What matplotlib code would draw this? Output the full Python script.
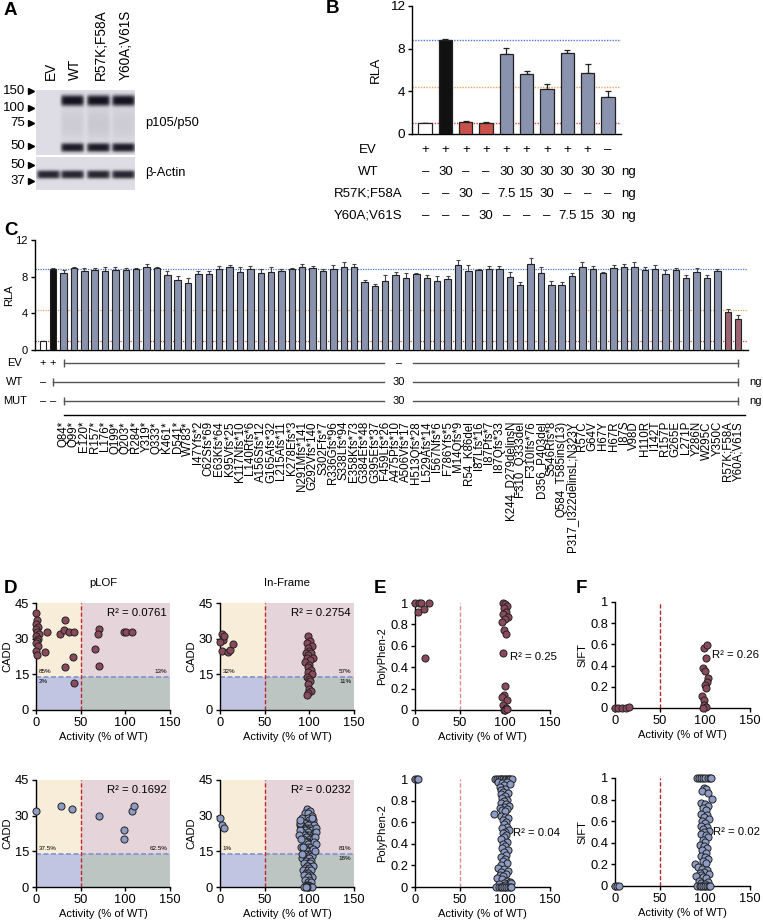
import matplotlib

matplotlib.use("Agg")
import matplotlib.pyplot as plt
import numpy as np
from matplotlib.colors import LinearSegmentedColormap
from matplotlib.transforms import blended_transform_factory as blend

W, H = 763, 924
plt.rcParams["font.family"] = ["Liberation Sans", "DejaVu Sans"]
plt.rcParams["font.size"] = 9
plt.rcParams["axes.linewidth"] = 1.0

# ---------------- data ----------------
# A: blot
blot_lanes = ["EV", "WT", "R57K;F58A", "Y60A;V61S"]
p105_signal = [0.0, 1.0, 1.0, 1.0]
p50_signal = [0.0, 0.95, 0.95, 0.95]
smear_signal = [0.0, 0.08, 0.1, 0.08]
actin_signal = [0.9, 0.9, 0.9, 0.9]
marker_top = ["150", "100", "75", "50"]
marker_bot = ["50", "37"]

# B
b_group = ["EV", "WT", "MUT", "MUT", "MIX", "MIX", "MIX", "MIX", "MIX", "MIX"]
b_values = [1.0, 8.82, 1.12, 1.07, 7.5, 5.6, 4.2, 7.57, 5.76, 3.43]
b_errors = [0.0, 0.08, 0.12, 0.1, 0.6, 0.3, 0.47, 0.32, 0.8, 0.56]
b_row_names = ["EV", "WT", "R57K;F58A", "Y60A;V61S"]
b_ev = ["+", "+", "+", "+", "+", "+", "+", "+", "+", "–"]
b_wt = ["–", "30", "–", "–", "30", "30", "30", "30", "30", "30"]
b_r57k = ["–", "–", "30", "–", "7.5", "15", "30", "–", "–", "–"]
b_y60a = ["–", "–", "–", "30", "–", "–", "–", "7.5", "15", "30"]
b_ref = [8.8, 4.4, 1.0]

# C
c_labels = ["Q84*", "Q99*", "E120*", "R157*", "L176*", "Q199*", "Q203*", "R284*",
            "Y319*", "Q333*", "K461*", "D541*", "W783*", "I47Yfs*2", "C62Sfs*69",
            "E63Kfs*64", "K95Vfs*25", "K117Nfs*10", "L140Rfs*6", "A156Sfs*12",
            "G165Afs*32", "L215Afs*11", "K278Efs*3", "N291Mfs*141", "G292Vfs*140",
            "S302Ffs*7", "R336Gfs*96", "S338Lfs*94", "E358Kfs*73", "G384Efs*48",
            "G395Efs*37", "F459Lfs*26", "A475Pfs*10", "A506Vfs*17", "H513Qfs*28",
            "L529Afs*14", "I567Nfs*6", "F786Yfs*5", "M14Qfs*9", "R54_K86del",
            "I87Lfs*16", "I87Pfs*7", "I87Qfs*33", "K244_D279delinsN", "F310_Q333del",
            "F310Ifs*76", "D356_P403del", "S546Rfs*8", "Q584_T585ins(13)",
            "P317_I322delinsL;N323Y", "R57C", "G64V", "H67Y", "H67R", "I87S", "V98D",
            "H110R", "I142T", "R157P", "G265E", "L271P", "Y286N", "W295C", "Y350C",
            "R57K;F58A", "Y60A;V61S"]
c_values = [1.0, 8.85,
            8.4, 8.9, 8.6, 8.7, 8.6, 8.7, 8.7, 8.8, 9.1, 8.9, 8.2, 7.6, 7.3, 8.3, 8.3,
            8.81, 9.1, 8.56, 8.81, 8.38, 8.56, 8.63, 8.81, 9.1, 8.99, 8.66, 8.81,
            9.1, 9.1, 7.47, 7.0, 7.58, 8.2, 7.9, 8.3, 7.83, 7.55, 7.73, 9.28, 8.63,
            8.74, 8.81, 8.88, 8.0, 7.1, 9.35, 8.45, 7.1, 7.1, 8.12, 9.1, 8.81, 8.38,
            8.92, 9.03, 9.1, 8.74, 8.84, 8.27, 8.74, 7.9, 8.56, 7.83, 8.66, 4.2, 3.4]
c_errors = [0.0, 0.1,
            0.3, 0.2, 0.4, 0.3, 0.5, 0.4, 0.2, 0.2, 0.3, 0.2, 0.4, 0.5, 0.6, 0.3, 0.3,
            0.3, 0.15, 0.5, 0.3, 0.5, 0.5, 0.2, 0.15, 0.3, 0.2, 0.15, 0.5, 0.5, 0.3,
            0.2, 0.15, 0.6, 0.3, 0.5, 0.15, 0.3, 0.5, 0.3, 0.5, 0.6, 0.1, 0.3, 0.3,
            0.5, 0.3, 0.7, 0.6, 0.4, 0.3, 0.3, 0.5, 0.3, 0.1, 0.4, 0.3, 0.5, 0.3,
            0.4, 0.5, 0.2, 0.3, 0.4, 0.3, 0.15, 0.3, 0.4]
c_ev = ["+", "+"]
c_wt = ["–"]
c_mut = ["–", "–"]

# D: activity vs CADD
plof_act = [0, 1, 0, 2, 0, 1, 3, 0, 2, 1, 0, 2, 0, 1,
            12, 10, 27, 32, 31, 37, 42, 41, 33, 42, 66, 70, 69, 71, 98, 101, 108]
plof_cadd = [41, 38, 36, 35, 34, 33, 32, 31, 30, 29, 28, 27, 25, 23,
             33, 24.5, 32, 38, 33.6, 33, 33, 22.4, 18, 11.5, 25.6, 34, 32, 18.5, 33, 33, 33]
inf_act = [2, 3, 0, 4, 2, 9, 11, 15,
           99, 101, 97, 103, 98, 100, 96, 102, 99, 104, 97, 101, 95, 100, 98, 102,
           99, 103, 97, 100, 101, 98, 100, 102, 99, 97]
inf_cadd = [32, 29.4, 28.7, 31, 25, 24.5, 25.2, 27.6,
            31, 29, 28, 27, 26, 25, 24, 24, 23, 22, 22, 21, 20, 19, 18, 17,
            16, 15, 14, 13, 12, 11, 9, 8, 7, 6.5]
plof2_act = [0, 28, 40, 70, 98, 98, 107, 110]
plof2_cadd = [32, 34, 33, 30, 24, 20, 32, 34]
inf2_act = [0, 2, 4,
            97, 101, 95, 99, 103, 92, 98, 104, 100, 96, 94, 102, 99, 105, 91, 97, 101, 93, 100, 98,
            103, 95, 99, 106, 92, 97, 100, 94, 102, 98, 96, 101, 104, 93, 99, 97, 95, 100, 103, 98,
            91, 99, 102, 96, 94, 100, 97, 105, 98, 101, 95, 99, 103, 92, 97, 100, 96, 102, 98, 94,
            101, 99, 104, 97, 95, 100, 93, 98, 102, 96, 99, 101, 97, 94, 103, 98, 100, 95, 99, 102,
            96, 98, 101, 97, 100, 94, 99, 103, 97, 96,
            89, 107, 90, 108, 88, 106, 91, 105, 89, 107, 93, 104, 90, 106, 92, 103]
inf2_cadd = [29, 26, 25,
             33, 32, 31, 31, 30, 29, 29, 28, 28, 27, 27, 27, 26, 26, 26, 25, 25, 25, 24, 24,
             24, 24, 23, 23, 23, 22, 22, 22, 21, 21, 21, 20, 20, 20, 19, 19, 19, 18, 18, 18,
             17, 17, 17, 16, 16, 15, 15, 15, 14, 14, 14, 13, 13, 12, 12, 12, 11, 11, 10, 10,
             10, 9, 9, 9, 8, 8, 7, 7, 7, 6, 6, 5, 5, 5, 4, 4, 3, 3, 2, 2,
             1, 1, 0.5, 0.5, 0.3, 0, 0, 0, 0, 0,
             26, 25, 24, 23, 22, 21, 20, 19, 27, 18, 17, 16, 28, 15, 14, 29]
d_r2 = ["0.0761", "0.2754", "0.1692", "0.0232"]
d_pct = [("85%", "13%", "2%", ""), ("32%", "57%", "", "11%"),
         ("37.5%", "62.5%", "", ""), ("1%", "81%", "", "18%")]
cadd_cut = 14

# E: activity vs PolyPhen-2
e1_act = [0, 4, 7, 3, 10, 16, 11,
          98, 100, 102, 99, 101, 98, 103, 100, 97, 99, 101, 98, 100, 99, 97, 102, 98, 101, 99, 100, 102]
e1_pp = [1.0, 1.0, 1.0, 0.92, 0.94, 1.0, 0.49,
         1.0, 0.99, 0.97, 0.95, 0.92, 0.9, 0.87, 0.85, 0.82, 0.75, 0.71, 0.53,
         0.22, 0.14, 0.12, 0.09, 0.05, 0.02, 0.0, 0.0, 0.01]
e2_act = [0, 2, 3,
          89, 91, 93, 95, 96, 98, 100, 101, 103, 104, 106, 108,
          92, 97, 102, 99, 94, 105, 100, 96, 98, 103, 95, 100, 97, 102, 99,
          96, 101, 104, 99, 94, 102, 97, 100, 88, 95, 100, 103, 98, 101,
          99, 102, 97, 104, 100, 98, 101, 99, 96, 102, 98, 100, 97, 103, 99, 101,
          96, 100, 98, 102, 95, 92, 99, 103, 96, 101, 94, 98,
          91, 97, 102, 105, 99, 93, 100, 107, 90, 93, 95, 97, 99, 101, 103, 105, 107]
e2_pp = [1.0, 1.0, 1.0,
         1, 1, 1, 1, 1, 1, 1, 1, 1, 1, 1, 1,
         0.97, 0.96, 0.97, 0.94, 0.93, 0.95, 0.91, 0.9, 0.88, 0.87, 0.86, 0.84, 0.82, 0.81, 0.8,
         0.78, 0.77, 0.75, 0.74, 0.73, 0.72, 0.71, 0.7, 0.68, 0.66, 0.65, 0.64, 0.62, 0.6,
         0.58, 0.56, 0.55, 0.53, 0.51, 0.5, 0.48, 0.46, 0.44, 0.42, 0.4, 0.38, 0.36, 0.34, 0.32, 0.3,
         0.28, 0.26, 0.24, 0.22, 0.2, 0.18, 0.17, 0.15, 0.14, 0.12, 0.11, 0.1,
         0.08, 0.07, 0.06, 0.05, 0.04, 0.03, 0.02, 0.04, 0, 0, 0, 0, 0, 0, 0, 0, 0]
e_r2 = ["0.25", "0.04"]

# F: activity vs SIFT
f1_act = [0, 3, 8, 12, 15,
          99, 102, 101, 98, 100, 103, 102, 100, 101, 97, 99, 99, 101, 98]
f1_sift = [0, 0, 0, 0, 0.01,
           0.57, 0.59, 0.47, 0.38, 0.35, 0.28, 0.25, 0.22, 0.19, 0.11, 0.08, 0.03, 0.01, 0.0]
f2_act = [0, 2, 4,
          91, 93, 96, 98, 100, 103, 105, 107,
          99, 101, 97, 103, 108, 95, 100, 103, 98, 101, 96, 102, 99, 104, 97,
          100, 95, 102, 98, 104, 99, 96, 101, 103, 98, 100, 94, 99, 102, 97, 101,
          95, 100, 103, 98, 89, 101, 92, 97, 102, 99, 94, 104, 96,
          90, 98, 101, 93, 103, 96, 100, 91, 94, 96, 98, 100, 102, 104, 106]
f2_sift = [0, 0, 0,
           1, 1, 1, 1, 1, 1, 1, 1,
           0.91, 0.9, 0.88, 0.86, 0.81, 0.77, 0.76, 0.74, 0.72, 0.7, 0.67, 0.66, 0.64, 0.62, 0.6,
           0.58, 0.56, 0.55, 0.53, 0.51, 0.5, 0.48, 0.47, 0.45, 0.43, 0.41, 0.38, 0.37, 0.35, 0.33, 0.31,
           0.28, 0.27, 0.25, 0.23, 0.2, 0.21, 0.18, 0.16, 0.15, 0.13, 0.12, 0.11, 0.1,
           0.09, 0.08, 0.07, 0.05, 0.04, 0.03, 0.02, 0, 0, 0, 0, 0, 0, 0, 0]
f_r2 = ["0.26", "0.02"]

# ---------------- style ----------------
GREYBLUE = "#8a93ae"
RED = "#c8524a"
MAUVE = "#9c6470"
MAROON = "#8b4a5c"
BLUEPT = "#8d9cc4"
REF_COLORS = ["#4f76d6", "#f0a25a", "#e0453f"]
b_color = {"EV": "white", "WT": "#111111", "MUT": RED, "MIX": GREYBLUE}

fig = plt.figure(figsize=(W / 100, H / 100), dpi=100)


def add_ax(x0, y0, x1, y1):
    return fig.add_axes([x0 / W, 1 - y1 / H, (x1 - x0) / W, (y1 - y0) / H])


def fy(y):
    return 1 - y / H


def fx(x):
    return x / W


def letter(x, y, s):
    fig.text(fx(x), fy(y), s, fontsize=13.5, fontweight="bold", va="top", ha="left")


def clean(ax, size=9.3):
    ax.spines["top"].set_visible(False)
    ax.spines["right"].set_visible(False)
    ax.tick_params(direction="out", length=3, width=1, labelsize=size, pad=2)


# ---------------- A ----------------
letter(4, 2, "A")
blot_cmap = LinearSegmentedColormap.from_list("blot", ["#15131f", "#e8e6ee"])
lane_x = [12, 36, 62, 87]


def blot(ax, nrows, bands):
    yy, xx = np.mgrid[0:nrows, 0:99]
    img = np.full((nrows, 99), 0.95)
    for yc, hh, sig in bands:
        for xc, s in zip(lane_x, sig):
            img -= s * 0.95 * np.exp(-((xx - xc) / 11.5) ** 8) * np.exp(-np.abs((yy - yc) / hh) ** 3)
    ax.imshow(np.clip(img, 0, 1), cmap=blot_cmap, vmin=0, vmax=1, aspect="auto",
              extent=(0, 99, nrows, 0), interpolation="bilinear")
    ax.set_xticks([])
    ax.set_yticks([])
    for s in ax.spines.values():
        s.set_visible(False)


def markers(ax, rows, names):
    tr = blend(fig.transFigure, ax.transData)
    for r, m in zip(rows, names):
        ax.text(fx(25), r, m, transform=tr, ha="right", va="center", fontsize=9.5)
        ax.plot([fx(31)], [r], transform=tr, marker=">", ms=4.5, color="black", clip_on=False)


ax_a1 = add_ax(36, 90, 135, 155)
blot(ax_a1, 65, [(10, 5.5, p105_signal), (57, 4.5, p50_signal), (33, 16, smear_signal)])
markers(ax_a1, [0.5, 18, 33, 56], marker_top)
ax_a2 = add_ax(36, 157, 135, 190)
blot(ax_a2, 33, [(17, 4.2, actin_signal)])
markers(ax_a2, [8, 24], marker_bot)
for xc, name in zip(lane_x, blot_lanes):
    ax_a1.text(xc + 3, -10, name, rotation=90, ha="center", va="bottom", fontsize=9.8)
fig.text(fx(145), fy(123), "p105/p50", fontsize=9.3, va="center")
fig.text(fx(145), fy(173), "β-Actin", fontsize=9.3, va="center")

# ---------------- B ----------------
letter(326, 0, "B")
ax_b = add_ax(412, 6, 621, 134)
xb = np.arange(len(b_values))
ax_b.bar(xb, b_values, width=0.66, color=[b_color[g] for g in b_group],
         edgecolor="#222222", linewidth=0.9, zorder=3)
ax_b.errorbar(xb, b_values, yerr=[np.zeros(len(b_errors)), b_errors], fmt="none",
              ecolor="#222222", elinewidth=0.9, capsize=2.5, capthick=0.9, zorder=2)
for val, col in zip(b_ref, REF_COLORS):
    ax_b.axhline(val, color=col, lw=1.0, ls=(0, (1, 1)), zorder=1)
ax_b.set_xlim(-0.65, len(b_values) - 0.35)
ax_b.set_ylim(0, 12)
ax_b.set_yticks([0, 4, 8, 12])
ax_b.set_xticks([])
ax_b.set_ylabel("RLA", fontsize=9.7, labelpad=6)
clean(ax_b, 9.7)
tb = blend(ax_b.transData, fig.transFigure)
for y, name, row in zip([150, 172, 194, 216], b_row_names, [b_ev, b_wt, b_r57k, b_y60a]):
    fig.text(fx(368), fy(y), name, ha="center", va="center", fontsize=9.5)
    for x, s in zip(xb, row):
        ax_b.text(x, fy(y), s, transform=tb, ha="center", va="center", fontsize=9.5)
    if name != "EV":
        fig.text(fx(621), fy(y), "ng", ha="left", va="center", fontsize=9.5)

# ---------------- C ----------------
letter(4, 222, "C")
ax_c = add_ax(35, 240, 748, 350)
xc = np.arange(len(c_values))
c_cols = ["white", "#111111"] + [GREYBLUE] * (len(c_values) - 4) + [MAUVE, MAUVE]
ax_c.bar(xc, c_values, width=0.62, color=c_cols, edgecolor="#222222", linewidth=0.8, zorder=3)
ax_c.errorbar(xc, c_values, yerr=[np.zeros(len(c_errors)), c_errors], fmt="none",
              ecolor="#444444", elinewidth=0.8, capsize=1.5, capthick=0.8, zorder=2)
for val, col in zip(b_ref, REF_COLORS):
    ax_c.axhline(val, color=col, lw=0.9, ls=(0, (1, 1)), zorder=1)
ax_c.set_xlim(-0.75, len(c_values) - 0.05)
ax_c.set_ylim(0, 12)
ax_c.set_yticks([0, 4, 8, 12])
ax_c.set_xticks([])
ax_c.set_ylabel("RLA", fontsize=8, labelpad=1)
clean(ax_c, 8)
tc = blend(ax_c.transData, fig.transFigure)
mid = 34.3
end = len(c_values) - 1
for y, name, marks, start, amount in [(363, "EV", c_ev, 2, "–"), (382, "WT", c_wt, 1, "30"),
                                      (401, "MUT", c_mut, 2, "30")]:
    fig.text(fx(15), fy(y), name, ha="center", va="center", fontsize=8)
    for i, s in enumerate(marks):
        ax_c.text(i, fy(y), s, transform=tc, ha="center", va="center", fontsize=8)
    ax_c.plot([start, mid - 1.4], [fy(y)] * 2, transform=tc, color="#555555", lw=1, clip_on=False)
    ax_c.plot([mid + 1.4, end], [fy(y)] * 2, transform=tc, color="#555555", lw=1, clip_on=False)
    ax_c.plot([start, end], [fy(y)] * 2, transform=tc, ls="none", marker="|", ms=6,
              mew=1, color="#555555", clip_on=False)
    ax_c.text(mid, fy(y), amount, transform=tc, ha="center", va="center", fontsize=8)
    if name != "EV":
        fig.text(fx(749), fy(y), "ng", ha="left", va="center", fontsize=8)
ax_c.plot([2, len(c_values) - 0.3], [fy(415)] * 2, transform=tc, color="black", lw=1, clip_on=False)
for i, lab in enumerate(c_labels):
    ax_c.text(i + 2, fy(421), lab, transform=tc, rotation=90, ha="center", va="top", fontsize=8.3)

# ---------------- D ----------------
letter(4, 580, "D")
d_data = [(plof_act, plof_cadd, MAROON), (inf_act, inf_cadd, MAROON),
          (plof2_act, plof2_cadd, BLUEPT), (inf2_act, inf2_cadd, BLUEPT)]
d_boxes = [(36, 603, 170, 710), (220, 603, 354, 710), (36, 780, 170, 887), (220, 780, 354, 887)]
for k, ((act, cadd, col), box) in enumerate(zip(d_data, d_boxes)):
    ax = add_ax(*box)
    ax.fill_between([0, 50], cadd_cut, 45, color="#f7edd8", lw=0, zorder=0)
    ax.fill_between([50, 150], cadd_cut, 45, color="#e5d4da", lw=0, zorder=0)
    ax.fill_between([0, 50], 0, cadd_cut, color="#c2c5e2", lw=0, zorder=0)
    ax.fill_between([50, 150], 0, cadd_cut, color="#bcc5c2", lw=0, zorder=0)
    ax.axhline(cadd_cut, color="#7f93cf", lw=1.2, ls=(0, (3, 1.5)), zorder=1)
    ax.axvline(50, color="#c0282c", lw=1.0, ls=(0, (3, 1.5)), zorder=1)
    ax.scatter(act, cadd, s=26, c=col, edgecolors="#222222", linewidths=0.7, zorder=3, clip_on=False)
    ax.set_xlim(0, 150)
    ax.set_ylim(0, 45)
    ax.set_xticks([0, 50, 100, 150])
    ax.set_yticks([0, 15, 30, 45])
    ax.set_xlabel("Activity (% of WT)", fontsize=8, labelpad=2)
    ax.set_ylabel("CADD", fontsize=8, labelpad=2)
    clean(ax)
    ax.text(146, 43, f"R² = {d_r2[k]}", ha="right", va="top", fontsize=8.2)
    tl, tr, bl, br = d_pct[k]
    ax.text(3, cadd_cut + 1, tl, fontsize=4.5, ha="left", va="bottom")
    ax.text(147, cadd_cut + 1, tr, fontsize=4.5, ha="right", va="bottom")
    ax.text(3, cadd_cut - 1, bl, fontsize=4.5, ha="left", va="top")
    ax.text(147, cadd_cut - 1, br, fontsize=4.5, ha="right", va="top")
fig.text(fx(103), fy(583), "pLOF", ha="center", va="center", fontsize=8.2)
fig.text(fx(287), fy(583), "In-Frame", ha="center", va="center", fontsize=8.2)


# ---------------- E, F ----------------
def score_panel(box, act, score, col, r2, r2_x, ylabel, line_col):
    ax = add_ax(*box)
    ax.axvline(50, color=line_col, lw=1.0, ls=(0, (3, 1.5)), zorder=1)
    ax.scatter(act, score, s=26, c=col, edgecolors="#222222", linewidths=0.7, zorder=3, clip_on=False)
    ax.set_xlim(0, 150)
    ax.set_ylim(0, 1)
    ax.set_xticks([0, 50, 100, 150])
    ax.set_yticks([0, 0.2, 0.4, 0.6, 0.8, 1.0])
    ax.set_yticklabels(["0", "0.2", "0.4", "0.6", "0.8", "1"])
    ax.set_xlabel("Activity (% of WT)", fontsize=8, labelpad=2)
    ax.set_ylabel(ylabel, fontsize=8, labelpad=2)
    clean(ax)
    ax.text(r2_x, 0.5, f"R² = {r2}", ha="left", va="center", fontsize=8.2)


letter(374, 580, "E")
letter(576, 580, "F")
score_panel((415, 603, 550, 710), e1_act, e1_pp, MAROON, e_r2[0], 105, "PolyPhen-2", "#e08a8a")
score_panel((415, 779, 550, 887), e2_act, e2_pp, BLUEPT, e_r2[1], 109, "PolyPhen-2", "#e08a8a")
score_panel((615, 602, 750, 708), f1_act, f1_sift, MAROON, f_r2[0], 108, "SIFT", "#b02a2a")
score_panel((615, 778, 750, 886), f2_act, f2_sift, BLUEPT, f_r2[1], 109, "SIFT", "#b02a2a")

fig.savefig("out.png", dpi=100)
